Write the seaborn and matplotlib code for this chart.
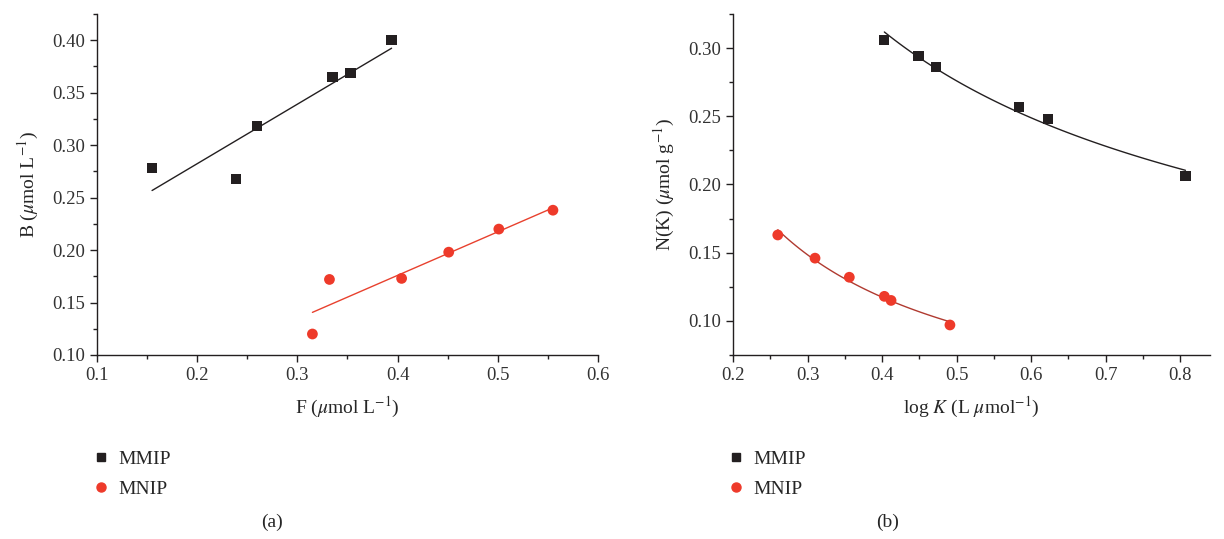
import numpy as np
import pandas as pd
import matplotlib
matplotlib.use("Agg")
import matplotlib.pyplot as plt
from matplotlib.lines import Line2D
from matplotlib.ticker import MultipleLocator
import seaborn as sns

# Panel (a): Scatchard-type data
a_mmip_F = [0.155, 0.239, 0.260, 0.335, 0.353, 0.394]
a_mmip_B = [0.278, 0.268, 0.318, 0.365, 0.369, 0.400]
a_mnip_F = [0.315, 0.332, 0.404, 0.451, 0.501, 0.555]
a_mnip_B = [0.120, 0.172, 0.173, 0.198, 0.220, 0.238]

# Panel (b): affinity distribution data
b_mmip_logK = [0.403, 0.449, 0.472, 0.584, 0.623, 0.807]
b_mmip_N = [0.306, 0.294, 0.286, 0.257, 0.248, 0.206]
b_mnip_logK = [0.260, 0.310, 0.356, 0.403, 0.412, 0.491]
b_mnip_N = [0.163, 0.146, 0.132, 0.118, 0.115, 0.097]

BLACK = "#231f20"
RED = "#ee3a2a"
RED_LINE_A = "#e8412e"
RED_LINE_B = "#b03a30"

sns.set_style("ticks")
plt.rcParams["font.family"] = ["Liberation Serif", "DejaVu Serif"]
plt.rcParams["mathtext.fontset"] = "stix"
plt.rcParams["axes.edgecolor"] = BLACK
plt.rcParams["axes.linewidth"] = 1.0

fig = plt.figure(figsize=(12.24, 5.39), dpi=100)
ax1 = fig.add_axes([0.0792, 0.3414, 0.4094, 0.6326])
ax2 = fig.add_axes([0.5989, 0.3414, 0.3897, 0.6326])


def linear_fit(x, y):
    k, b = np.polyfit(x, y, 1)
    xs = np.array([min(x), max(x)])
    return xs, k * xs + b


def power_fit(x, y):
    # allometric fit N = a * x^b
    k, b = np.polyfit(np.log(x), np.log(y), 1)
    xs = np.linspace(min(x), max(x), 60)
    return xs, np.exp(b) * xs ** k


# ---- panel (a)
fx, fy = linear_fit(a_mmip_F, a_mmip_B)
sns.lineplot(x=fx, y=fy, color=BLACK, lw=1.0, ax=ax1)
fx, fy = linear_fit(a_mnip_F, a_mnip_B)
sns.lineplot(x=fx, y=fy, color=RED_LINE_A, lw=1.0, ax=ax1)
sns.scatterplot(x=a_mmip_F, y=a_mmip_B, marker="s", s=55, color=BLACK,
                edgecolor="none", ax=ax1, zorder=3)
sns.scatterplot(x=a_mnip_F, y=a_mnip_B, marker="o", s=60, color=RED,
                edgecolor="none", ax=ax1, zorder=3)
ax1.set_xlim(0.1, 0.6)
ax1.set_ylim(0.10, 0.425)
ax1.xaxis.set_major_locator(MultipleLocator(0.1))
ax1.xaxis.set_minor_locator(MultipleLocator(0.05))
ax1.yaxis.set_major_locator(MultipleLocator(0.05))
ax1.yaxis.set_minor_locator(MultipleLocator(0.025))
ax1.xaxis.set_major_formatter(matplotlib.ticker.FormatStrFormatter("%.1f"))
ax1.yaxis.set_major_formatter(matplotlib.ticker.FormatStrFormatter("%.2f"))
ax1.set_xlabel(r"F ($\mu$mol L$^{-1}$)", fontsize=14, labelpad=8)
ax1.set_ylabel(r"B ($\mu$mol L$^{-1}$)", fontsize=14, labelpad=8)

# ---- panel (b)
fx, fy = power_fit(b_mmip_logK, b_mmip_N)
sns.lineplot(x=fx, y=fy, color=BLACK, lw=1.0, ax=ax2)
fx, fy = power_fit(b_mnip_logK, b_mnip_N)
sns.lineplot(x=fx, y=fy, color=RED_LINE_B, lw=1.0, ax=ax2)
sns.scatterplot(x=b_mmip_logK, y=b_mmip_N, marker="s", s=55, color=BLACK,
                edgecolor="none", ax=ax2, zorder=3)
sns.scatterplot(x=b_mnip_logK, y=b_mnip_N, marker="o", s=60, color=RED,
                edgecolor="none", ax=ax2, zorder=3)
ax2.set_xlim(0.2, 0.84)
ax2.set_ylim(0.075, 0.325)
ax2.xaxis.set_major_locator(MultipleLocator(0.1))
ax2.xaxis.set_minor_locator(MultipleLocator(0.05))
ax2.yaxis.set_major_locator(MultipleLocator(0.05))
ax2.yaxis.set_minor_locator(MultipleLocator(0.025))
ax2.xaxis.set_major_formatter(matplotlib.ticker.FormatStrFormatter("%.1f"))
ax2.yaxis.set_major_formatter(matplotlib.ticker.FormatStrFormatter("%.2f"))
ax2.set_xlabel(r"log $K$ (L $\mu$mol$^{-1}$)", fontsize=14, labelpad=8)
ax2.set_ylabel(r"N(K) ($\mu$mol g$^{-1}$)", fontsize=14, labelpad=8)

for ax in (ax1, ax2):
    sns.despine(ax=ax)
    ax.tick_params(axis="both", which="major", direction="out", length=5,
                   width=1.0, labelsize=13.5, colors=BLACK, labelcolor="#333333")
    ax.tick_params(axis="both", which="minor", direction="out", length=3,
                   width=1.0, colors=BLACK)

# legends below each panel
handles = [
    Line2D([], [], marker="s", color=BLACK, ls="none", markersize=6),
    Line2D([], [], marker="o", color=RED, ls="none", markersize=6.5),
]
labels = ["MMIP", "MNIP"]
for xpos in (0.068, 0.587):
    fig.legend(handles, labels, loc="upper left", bbox_to_anchor=(xpos, 0.182),
               frameon=False, fontsize=14, handlelength=0.8, handletextpad=0.5,
               labelspacing=0.6, borderpad=0)

fig.text(0.222, 0.03, "(a)", ha="center", va="center", fontsize=14)
fig.text(0.725, 0.03, "(b)", ha="center", va="center", fontsize=14)

fig.savefig("out.png", dpi=100)
